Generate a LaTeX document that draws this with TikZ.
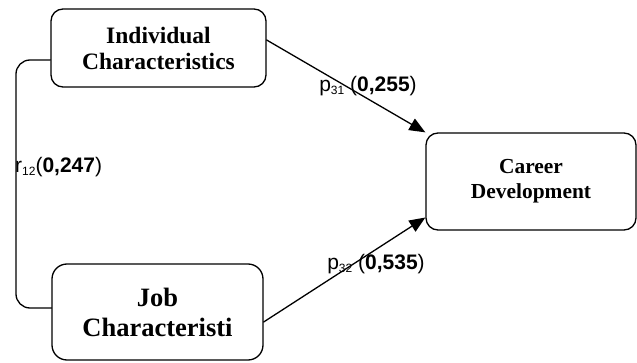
\documentclass[tikz,border=0pt]{standalone}
\usepackage{fontspec}
\setmainfont{Liberation Serif}
\newfontfamily\arialfont{Liberation Sans}
\usetikzlibrary{arrows.meta}
\newcommand{\lowsub}[1]{\raisebox{-3pt}{\fontsize{12}{12}\selectfont #1}}

\begin{document}
\begin{tikzpicture}[line cap=round,line join=round,x=1pt,y=-1pt,
	varbox/.style={draw,line width=1.3pt,rounded corners=12pt,align=center,inner sep=0pt,font=\bfseries},
	path/.style={line width=1.3pt,-{Triangle[length=16pt,width=13pt]}},
	coef/.style={font=\arialfont\fontsize{21}{24}\selectfont,inner sep=0pt}]

	\useasboundingbox (0,0) rectangle (637,363);

	% variabel
	\node[varbox,minimum width=215pt,minimum height=78pt,font=\bfseries\fontsize{23.5}{26}\selectfont] (ind) at (158.5,48)
		{Individual\\Characteristics};
	\node[varbox,minimum width=211pt,minimum height=96pt,rounded corners=15pt,font=\bfseries\fontsize{26.5}{30}\selectfont] (job) at (157.5,312)
		{Job\\Characteristi};
	\node[varbox,minimum width=210pt,minimum height=97pt,font=\bfseries\fontsize{21.4}{25}\selectfont] (car) at (531,181.5)
		{Career\\Development};

	% korelasi
	\draw[line width=1.3pt,rounded corners=14pt] ([yshift=-12pt]ind.west) -| (16,180) |- ([yshift=4pt]job.west);
	\node[coef,anchor=west] (r12) at (15,167) {r\lowsub{12}(\textbf{0,247})};

	% jalur
	\draw[path] ([yshift=8pt]ind.east) -- (car.north west);
	\draw[path] ([yshift=-10pt]job.east) -- ([yshift=-36pt]car.west);
	\node[coef] (p31) at (368,86) {p\lowsub{31} (\textbf{0,255})};
	\node[coef] (p32) at (376,264) {p\lowsub{32} (\textbf{0,535})};

\end{tikzpicture}
\end{document}
